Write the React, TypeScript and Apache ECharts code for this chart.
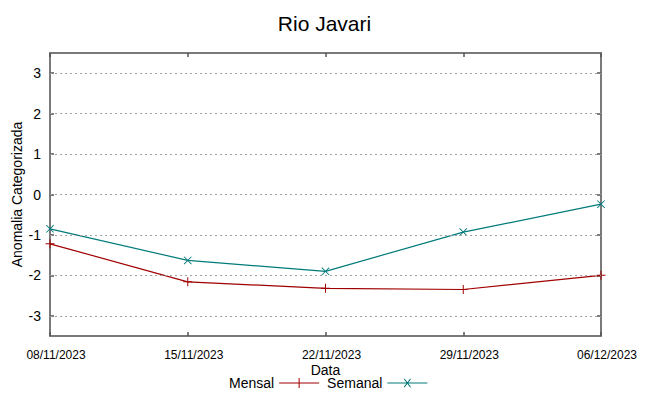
import React, { useEffect, useRef } from "react";
import * as echarts from "echarts";

const dates = ["08/11/2023", "15/11/2023", "22/11/2023", "29/11/2023", "06/12/2023"];
const mensal = [-1.22, -2.16, -2.32, -2.35, -2.0];
const semanal = [-0.85, -1.63, -1.9, -0.93, -0.24];
const yTicks = [-3, -2, -1, 0, 1, 2, 3];

const plusPath = "path://M4,0H5V9H4Z M0,4H9V5H0Z";
const xPath = "path://M0,0.7L0.7,0L9,8.3L8.3,9Z M8.3,0L9,0.7L0.7,9L0,8.3Z";
const legPlus = "path://M0,9.5H40V10.5H0Z M19.5,5H20.5V15H19.5Z";
const legX = "path://M0,9.5H40V10.5H0Z M16.5,6.2L17.2,5.5L23.5,13.8L22.8,14.5Z M22.8,5.5L23.5,6.2L17.2,14.5L16.5,13.8Z";

export default function App() {
  const ref = useRef<HTMLDivElement>(null);
  useEffect(() => {
    const chart = echarts.init(ref.current!, null, { renderer: "svg" });
    const font = "Liberation Sans, Arial, sans-serif";
    const frame = () => ({ show: true, onZero: false, lineStyle: { color: "#7a7a7a", width: 2 } });
    const tick = () => ({ show: true, inside: true, length: 4, lineStyle: { color: "#555", width: 1.5 } });
    chart.setOption({
      animation: false,
      backgroundColor: "#ffffff",
      title: {
        text: "Rio Javari",
        left: "center",
        top: 8,
        textStyle: { fontFamily: font, fontSize: 21, fontWeight: "normal", color: "#000" },
      },
      legend: {
        bottom: 1,
        left: 224,
        align: "right",
        itemWidth: 40,
        itemHeight: 20,
        itemGap: 8,
        textStyle: { fontFamily: font, fontSize: 14, color: "#000" },
        data: [
          { name: "Mensal", icon: legPlus },
          { name: "Semanal", icon: legX },
        ],
      },
      grid: { left: 50, right: 48, top: 53, bottom: 60, outerBoundsMode: "none", containLabel: false },
      xAxis: [
        {
          type: "category",
          data: dates,
          boundaryGap: false,
          name: "Data",
          nameLocation: "middle",
          nameGap: 27,
          nameMoveOverlap: false,
          nameTextStyle: { fontFamily: font, fontSize: 14, color: "#000" },
          axisLine: frame(),
          axisTick: tick(),
          axisLabel: {
            fontFamily: font,
            fontSize: 12,
            color: "#000",
            margin: 13,
            padding: [0, 0, 0, 12],
            interval: 0,
          },
          splitLine: { show: false },
        },
        {
          type: "category",
          data: dates,
          boundaryGap: false,
          position: "top",
          axisLine: frame(),
          axisTick: tick(),
          axisLabel: { show: false },
          splitLine: { show: false },
        },
      ],
      yAxis: [
        {
          type: "value",
          min: -3.5,
          max: 3.5,
          interval: 1,
          name: "Anomalia Categorizada",
          nameLocation: "middle",
          nameGap: 26,
          nameMoveOverlap: false,
          nameTextStyle: { fontFamily: font, fontSize: 14, color: "#000" },
          axisLine: frame(),
          axisTick: { ...tick(), customValues: yTicks },
          axisLabel: {
            fontFamily: font,
            fontSize: 14,
            color: "#000",
            margin: 9,
            customValues: yTicks,
          },
          splitLine: { show: false },
        },
        {
          type: "value",
          min: -3.5,
          max: 3.5,
          position: "right",
          axisLine: frame(),
          axisTick: { ...tick(), customValues: yTicks },
          axisLabel: { show: false },
          splitLine: { show: false },
        },
      ],
      series: [
        {
          name: "grid",
          type: "line",
          data: [],
          markLine: {
            silent: true,
            symbol: "none",
            label: { show: false },
            lineStyle: { color: "#a0a0a0", type: [2, 3], width: 1 },
            data: yTicks.map((v) => ({ yAxis: v })),
          },
        },
        {
          name: "Mensal",
          type: "line",
          data: mensal,
          symbol: plusPath,
          symbolSize: 9,
          showSymbol: true,
          lineStyle: { color: "#a00000", width: 1.2 },
          itemStyle: { color: "#a00000" },
          color: "#a00000",
        },
        {
          name: "Semanal",
          type: "line",
          data: semanal,
          symbol: xPath,
          symbolSize: 8,
          showSymbol: true,
          lineStyle: { color: "#007a7a", width: 1.2 },
          itemStyle: { color: "#007a7a" },
          color: "#007a7a",
        },
      ],
    });
    return () => chart.dispose();
  }, []);
  return <div ref={ref} style={{ width: 649, height: 396, margin: -8 }} />;
}
